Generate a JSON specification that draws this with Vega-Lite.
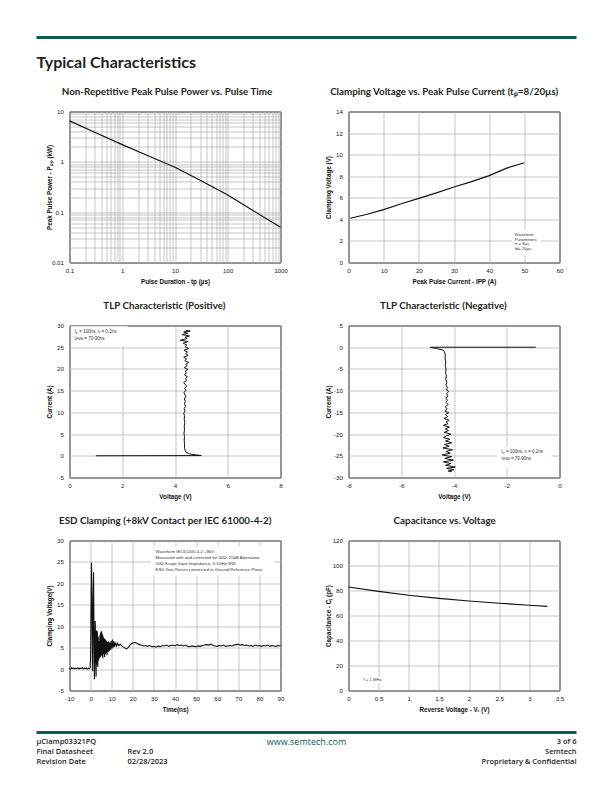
{
  "$schema": "https://vega.github.io/schema/vega-lite/v6.json",
  "background": "white",
  "padding": {"left": 34.5, "top": 35.5, "right": 10, "bottom": 10},
  "columns": 2,
  "bounds": "flush",
  "spacing": {"row": 63, "column": 68},
  "datasets": {
    "pulse": [
      {"tp": 0.1, "ppp": 6.5}, {"tp": 0.3, "ppp": 3.87}, {"tp": 1, "ppp": 2.2}, {"tp": 3, "ppp": 1.34},
      {"tp": 10, "ppp": 0.78}, {"tp": 30, "ppp": 0.43}, {"tp": 100, "ppp": 0.22}, {"tp": 300, "ppp": 0.108}, {"tp": 1000, "ppp": 0.05}
    ],
    "clamp": [
      {"ipp": 0.5, "vc": 4.1}, {"ipp": 5, "vc": 4.45}, {"ipp": 10, "vc": 4.9}, {"ipp": 15, "vc": 5.45},
      {"ipp": 20, "vc": 5.95}, {"ipp": 25, "vc": 6.45}, {"ipp": 30, "vc": 7.0}, {"ipp": 35, "vc": 7.5},
      {"ipp": 40, "vc": 8.05}, {"ipp": 45, "vc": 8.75}, {"ipp": 50, "vc": 9.25}
    ],
    "tlpPos": [
      {"i": 0, "v": 1.0, "a": 0}, {"i": 1, "v": 5.0, "a": 0.05}, {"i": 2, "v": 4.8, "a": 0.2}, {"i": 3, "v": 4.55, "a": 0.45},
      {"i": 4, "v": 4.42, "a": 0.8}, {"i": 5, "v": 4.38, "a": 1.3}, {"i": 6, "v": 4.36, "a": 2.0}, {"i": 7, "v": 4.36, "a": 2.8},
      {"i": 8, "v": 4.35, "a": 3.6}, {"i": 9, "v": 4.36, "a": 4.4}, {"i": 10, "v": 4.34, "a": 5.2}, {"i": 11, "v": 4.36, "a": 6.0},
      {"i": 12, "v": 4.35, "a": 6.8}, {"i": 13, "v": 4.37, "a": 7.6}, {"i": 14, "v": 4.35, "a": 8.4}, {"i": 15, "v": 4.36, "a": 9.2},
      {"i": 16, "v": 4.33, "a": 9.8}, {"i": 17, "v": 4.38, "a": 10.3}, {"i": 18, "v": 4.35, "a": 10.9}, {"i": 19, "v": 4.40, "a": 11.4},
      {"i": 20, "v": 4.36, "a": 12.0}, {"i": 21, "v": 4.39, "a": 12.6}, {"i": 22, "v": 4.35, "a": 13.1}, {"i": 23, "v": 4.41, "a": 13.6},
      {"i": 24, "v": 4.37, "a": 14.2}, {"i": 25, "v": 4.34, "a": 14.6}, {"i": 26, "v": 4.42, "a": 15.1}, {"i": 27, "v": 4.36, "a": 15.5},
      {"i": 28, "v": 4.45, "a": 16.0}, {"i": 29, "v": 4.38, "a": 16.4}, {"i": 30, "v": 4.33, "a": 16.9}, {"i": 31, "v": 4.44, "a": 17.3},
      {"i": 32, "v": 4.40, "a": 17.8}, {"i": 33, "v": 4.47, "a": 18.2}, {"i": 34, "v": 4.36, "a": 18.6}, {"i": 35, "v": 4.43, "a": 19.1},
      {"i": 36, "v": 4.39, "a": 19.5}, {"i": 37, "v": 4.49, "a": 19.9}, {"i": 38, "v": 4.35, "a": 20.3}, {"i": 39, "v": 4.46, "a": 20.7},
      {"i": 40, "v": 4.41, "a": 21.1}, {"i": 41, "v": 4.52, "a": 21.5}, {"i": 42, "v": 4.37, "a": 21.9}, {"i": 43, "v": 4.44, "a": 22.3},
      {"i": 44, "v": 4.33, "a": 22.7}, {"i": 45, "v": 4.50, "a": 23.1}, {"i": 46, "v": 4.40, "a": 23.5}, {"i": 47, "v": 4.47, "a": 23.9},
      {"i": 48, "v": 4.34, "a": 24.3}, {"i": 49, "v": 4.52, "a": 24.7}, {"i": 50, "v": 4.38, "a": 25.1}, {"i": 51, "v": 4.45, "a": 25.5},
      {"i": 52, "v": 4.31, "a": 25.9}, {"i": 53, "v": 4.50, "a": 26.3}, {"i": 54, "v": 4.20, "a": 26.6}, {"i": 55, "v": 4.46, "a": 27.0},
      {"i": 56, "v": 4.38, "a": 27.3}, {"i": 57, "v": 4.55, "a": 27.6}, {"i": 58, "v": 4.27, "a": 27.9}, {"i": 59, "v": 4.48, "a": 28.2},
      {"i": 60, "v": 4.33, "a": 28.5}, {"i": 61, "v": 4.58, "a": 28.7}, {"i": 62, "v": 4.40, "a": 28.9}
    ],
    "tlpNeg": [
      {"i": 0, "v": -0.9, "a": 0}, {"i": 1, "v": -4.9, "a": 0}, {"i": 2, "v": -4.85, "a": -0.1}, {"i": 3, "v": -4.65, "a": -0.3},
      {"i": 4, "v": -4.45, "a": -0.6}, {"i": 5, "v": -4.36, "a": -1.0}, {"i": 6, "v": -4.33, "a": -1.8}, {"i": 7, "v": -4.34, "a": -2.6},
      {"i": 8, "v": -4.31, "a": -3.4}, {"i": 9, "v": -4.33, "a": -4.2}, {"i": 10, "v": -4.30, "a": -5.0}, {"i": 11, "v": -4.32, "a": -5.8},
      {"i": 12, "v": -4.29, "a": -6.6}, {"i": 13, "v": -4.31, "a": -7.4}, {"i": 14, "v": -4.27, "a": -8.1}, {"i": 15, "v": -4.31, "a": -8.7},
      {"i": 16, "v": -4.24, "a": -9.3}, {"i": 17, "v": -4.29, "a": -9.8}, {"i": 18, "v": -4.20, "a": -10.2}, {"i": 19, "v": -4.28, "a": -10.7},
      {"i": 20, "v": -4.23, "a": -11.2}, {"i": 21, "v": -4.31, "a": -11.7}, {"i": 22, "v": -4.25, "a": -12.2}, {"i": 23, "v": -4.30, "a": -12.7},
      {"i": 24, "v": -4.22, "a": -13.2}, {"i": 25, "v": -4.33, "a": -13.7}, {"i": 26, "v": -4.26, "a": -14.2}, {"i": 27, "v": -4.35, "a": -14.7},
      {"i": 28, "v": -4.20, "a": -15.1}, {"i": 29, "v": -4.32, "a": -15.5}, {"i": 30, "v": -4.24, "a": -16.0}, {"i": 31, "v": -4.38, "a": -16.4},
      {"i": 32, "v": -4.19, "a": -16.8}, {"i": 33, "v": -4.30, "a": -17.2}, {"i": 34, "v": -4.23, "a": -17.6}, {"i": 35, "v": -4.40, "a": -18.0},
      {"i": 36, "v": -4.17, "a": -18.4}, {"i": 37, "v": -4.33, "a": -18.8}, {"i": 38, "v": -4.21, "a": -19.2}, {"i": 39, "v": -4.37, "a": -19.6},
      {"i": 40, "v": -4.12, "a": -20.0}, {"i": 41, "v": -4.28, "a": -20.4}, {"i": 42, "v": -4.40, "a": -20.8}, {"i": 43, "v": -4.16, "a": -21.2},
      {"i": 44, "v": -4.32, "a": -21.6}, {"i": 45, "v": -4.08, "a": -22.0}, {"i": 46, "v": -4.36, "a": -22.4}, {"i": 47, "v": -4.18, "a": -22.8},
      {"i": 48, "v": -4.42, "a": -23.2}, {"i": 49, "v": -4.05, "a": -23.6}, {"i": 50, "v": -4.30, "a": -24.0}, {"i": 51, "v": -4.14, "a": -24.4},
      {"i": 52, "v": -4.45, "a": -24.8}, {"i": 53, "v": -4.09, "a": -25.2}, {"i": 54, "v": -4.35, "a": -25.6}, {"i": 55, "v": -4.02, "a": -26.0},
      {"i": 56, "v": -4.40, "a": -26.4}, {"i": 57, "v": -4.12, "a": -26.8}, {"i": 58, "v": -4.32, "a": -27.2}, {"i": 59, "v": -3.95, "a": -27.6},
      {"i": 60, "v": -4.28, "a": -27.9}, {"i": 61, "v": -4.00, "a": -28.2}, {"i": 62, "v": -4.22, "a": -28.5}, {"i": 63, "v": -4.08, "a": -28.7}
    ],
    "esd": [
      {"t": -10, "v": 0.2}, {"t": -9.5, "v": 0.0}, {"t": -9, "v": 0.3}, {"t": -8.5, "v": 0.1}, {"t": -8, "v": 0.25}, {"t": -7.5, "v": 0.05},
      {"t": -7, "v": 0.2}, {"t": -6.5, "v": 0.1}, {"t": -6, "v": 0.3}, {"t": -5.5, "v": 0.0}, {"t": -5, "v": 0.2}, {"t": -4.5, "v": 0.15},
      {"t": -4, "v": 0.3}, {"t": -3.5, "v": 0.05}, {"t": -3, "v": 0.2}, {"t": -2.5, "v": 0.1}, {"t": -2, "v": 0.25}, {"t": -1.5, "v": 0.0},
      {"t": -1, "v": 0.2}, {"t": -0.5, "v": 0.1}, {"t": -0.2, "v": 0.3},
      {"t": 0, "v": 3}, {"t": 0.2, "v": 14}, {"t": 0.4, "v": 24.8}, {"t": 0.6, "v": 18}, {"t": 0.8, "v": 6}, {"t": 1.0, "v": -0.5},
      {"t": 1.2, "v": 16}, {"t": 1.4, "v": 22.6}, {"t": 1.6, "v": 9}, {"t": 1.8, "v": -2.4}, {"t": 2.0, "v": 3}, {"t": 2.2, "v": 11.2},
      {"t": 2.4, "v": 4}, {"t": 2.6, "v": -1.8}, {"t": 2.8, "v": 9}, {"t": 3.0, "v": 1}, {"t": 3.2, "v": 8.8}, {"t": 3.4, "v": 0.5},
      {"t": 3.6, "v": 7.5}, {"t": 3.8, "v": 2}, {"t": 4.0, "v": 6.5}, {"t": 4.2, "v": 2.5}, {"t": 4.4, "v": 8.0}, {"t": 4.6, "v": 2.8},
      {"t": 4.8, "v": 8.6}, {"t": 5.0, "v": 3.0}, {"t": 5.2, "v": 8.8}, {"t": 5.4, "v": 3.2}, {"t": 5.6, "v": 8.2}, {"t": 5.8, "v": 2.5},
      {"t": 6.0, "v": 7.6}, {"t": 6.2, "v": 3.5}, {"t": 6.4, "v": 7.2}, {"t": 6.6, "v": 2.8}, {"t": 6.8, "v": 7.0}, {"t": 7.0, "v": 3.4},
      {"t": 7.2, "v": 6.8}, {"t": 7.4, "v": 3.8}, {"t": 7.6, "v": 6.5}, {"t": 7.8, "v": 3.2}, {"t": 8.0, "v": 6.3}, {"t": 8.3, "v": 4.0},
      {"t": 8.6, "v": 6.4}, {"t": 8.9, "v": 4.2}, {"t": 9.2, "v": 6.2}, {"t": 9.5, "v": 4.5}, {"t": 9.8, "v": 6.6}, {"t": 10.1, "v": 4.8},
      {"t": 10.4, "v": 6.9}, {"t": 10.7, "v": 5.0}, {"t": 11.0, "v": 6.5}, {"t": 11.4, "v": 5.2}, {"t": 11.8, "v": 6.2}, {"t": 12.3, "v": 5.4},
      {"t": 12.8, "v": 6.0}, {"t": 13.3, "v": 5.5}, {"t": 14, "v": 5.8}, {"t": 15, "v": 5.3}, {"t": 16, "v": 5.0}, {"t": 17, "v": 4.7},
      {"t": 18, "v": 5.1}, {"t": 19, "v": 5.8}, {"t": 20, "v": 6.1}, {"t": 21, "v": 6.2}, {"t": 22, "v": 6.0}, {"t": 23, "v": 5.7},
      {"t": 24, "v": 5.6}, {"t": 25, "v": 5.4}, {"t": 26, "v": 5.5}, {"t": 27, "v": 5.3}, {"t": 28, "v": 5.5}, {"t": 29, "v": 5.2},
      {"t": 30, "v": 5.3}, {"t": 31, "v": 5.1}, {"t": 32, "v": 5.4}, {"t": 33, "v": 5.2}, {"t": 34, "v": 5.5}, {"t": 35, "v": 5.4},
      {"t": 36, "v": 5.6}, {"t": 37, "v": 5.3}, {"t": 38, "v": 5.5}, {"t": 39, "v": 5.6}, {"t": 40, "v": 5.4}, {"t": 41, "v": 5.7},
      {"t": 42, "v": 5.5}, {"t": 43, "v": 5.6}, {"t": 44, "v": 5.4}, {"t": 45, "v": 5.6}, {"t": 46, "v": 5.3}, {"t": 47, "v": 5.2},
      {"t": 48, "v": 5.4}, {"t": 49, "v": 5.3}, {"t": 50, "v": 5.2}, {"t": 51, "v": 5.4}, {"t": 52, "v": 5.3}, {"t": 53, "v": 5.5},
      {"t": 54, "v": 5.6}, {"t": 55, "v": 5.7}, {"t": 56, "v": 5.6}, {"t": 57, "v": 5.8}, {"t": 58, "v": 5.5}, {"t": 59, "v": 5.4},
      {"t": 60, "v": 5.3}, {"t": 61, "v": 5.5}, {"t": 62, "v": 5.4}, {"t": 63, "v": 5.6}, {"t": 64, "v": 5.3}, {"t": 65, "v": 5.4},
      {"t": 66, "v": 5.5}, {"t": 67, "v": 5.4}, {"t": 68, "v": 5.6}, {"t": 69, "v": 5.7}, {"t": 70, "v": 5.8}, {"t": 71, "v": 5.6},
      {"t": 72, "v": 5.7}, {"t": 73, "v": 5.5}, {"t": 74, "v": 5.6}, {"t": 75, "v": 5.4}, {"t": 76, "v": 5.5}, {"t": 77, "v": 5.3},
      {"t": 78, "v": 5.6}, {"t": 79, "v": 5.4}, {"t": 80, "v": 5.5}, {"t": 81, "v": 5.3}, {"t": 82, "v": 5.5}, {"t": 83, "v": 5.4},
      {"t": 84, "v": 5.6}, {"t": 85, "v": 5.3}, {"t": 86, "v": 5.5}, {"t": 87, "v": 5.4}, {"t": 88, "v": 5.3}, {"t": 89, "v": 5.5}, {"t": 90, "v": 5.4}
    ],
    "cap": [
      {"vr": 0, "c": 82.8}, {"vr": 0.5, "c": 79.3}, {"vr": 1, "c": 76.2}, {"vr": 1.5, "c": 73.7}, {"vr": 2, "c": 71.6},
      {"vr": 2.5, "c": 69.8}, {"vr": 3, "c": 68.2}, {"vr": 3.3, "c": 67.3}
    ]
  },
  "concat": [
    {
      "width": 211, "height": 11, "view": {"stroke": null},
      "data": {"values": [{}]},
      "layer": [
        {"mark": {"type": "rule", "color": "#0b5d56", "strokeWidth": 3},
         "encoding": {
           "x": {"datum": 36, "type": "quantitative", "scale": {"domain": [69, 280]}, "axis": null},
           "x2": {"datum": 330},
           "y": {"datum": 37, "type": "quantitative", "scale": {"domain": [37, 48], "reverse": true}, "axis": null}}},
        {"mark": {"type": "text", "align": "left", "baseline": "middle", "font": "Lato", "fontWeight": "bold", "fontSize": 16, "color": "#231f20"},
         "encoding": {
           "x": {"datum": 36, "type": "quantitative", "scale": {"domain": [69, 280]}, "axis": null},
           "y": {"datum": 62, "type": "quantitative", "scale": {"domain": [37, 48], "reverse": true}, "axis": null},
           "text": {"value": "Typical Characteristics"}}}
      ]
    },
    {
      "width": 211, "height": 11, "view": {"stroke": null},
      "data": {"values": [{}]},
      "mark": {"type": "rule", "color": "#0b5d56", "strokeWidth": 3},
      "encoding": {
        "x": {"datum": 320, "type": "quantitative", "scale": {"domain": [348, 559]}, "axis": null},
        "x2": {"datum": 576},
        "y": {"datum": 37, "type": "quantitative", "scale": {"domain": [37, 48], "reverse": true}, "axis": null}}
    },
    {
      "width": 211, "height": 151,
      "title": {"text": "Non-Repetitive Peak Pulse Power vs. Pulse Time"},
      "data": {"name": "pulse"},
      "mark": {"type": "line", "color": "#111", "strokeWidth": 1.2},
      "encoding": {
        "x": {"field": "tp", "type": "quantitative",
              "scale": {"type": "log", "domain": [0.1, 1000]},
              "axis": {"title": "Pulse Duration - tp (µs)",
                       "values": [0.1, 0.2, 0.3, 0.4, 0.5, 0.6, 0.7, 0.8, 0.9, 1, 2, 3, 4, 5, 6, 7, 8, 9, 10, 20, 30, 40, 50, 60, 70, 80, 90, 100, 200, 300, 400, 500, 600, 700, 800, 900, 1000],
                       "labelExpr": "indexof([0.1,1,10,100,1000], datum.value) >= 0 ? format(datum.value, '~g') : ''"}},
        "y": {"field": "ppp", "type": "quantitative",
              "scale": {"type": "log", "domain": [0.01, 10]},
              "axis": {"title": "Peak Pulse Power - Pₚₚ (kW)",
                       "values": [0.01, 0.02, 0.03, 0.04, 0.05, 0.06, 0.07, 0.08, 0.09, 0.1, 0.2, 0.3, 0.4, 0.5, 0.6, 0.7, 0.8, 0.9, 1, 2, 3, 4, 5, 6, 7, 8, 9, 10],
                       "labelExpr": "indexof([0.01,0.1,1,10], datum.value) >= 0 ? format(datum.value, '~g') : ''"}}
      }
    },
    {
      "width": 211, "height": 151,
      "title": {"text": "Clamping Voltage vs. Peak Pulse Current (tₚ=8/20µs)"},
      "layer": [
        {"data": {"name": "clamp"},
         "mark": {"type": "line", "color": "#111", "strokeWidth": 1.2},
         "encoding": {
           "x": {"field": "ipp", "type": "quantitative", "scale": {"domain": [0, 60]},
                 "axis": {"title": "Peak Pulse Current - IPP (A)", "values": [0, 10, 20, 30, 40, 50, 60]}},
           "y": {"field": "vc", "type": "quantitative", "scale": {"domain": [0, 14]},
                 "axis": {"title": "Clamping Voltage (V)", "values": [0, 2, 4, 6, 8, 10, 12, 14]}}}},
        {"data": {"values": [{}]},
         "mark": {"type": "rect", "fill": "white"},
         "encoding": {
           "x": {"datum": 46.6, "type": "quantitative", "scale": {"domain": [0, 60]},
                 "axis": {"title": "Peak Pulse Current - IPP (A)", "values": [0, 10, 20, 30, 40, 50, 60]}},
           "x2": {"datum": 54.6},
           "y": {"datum": 0.6, "type": "quantitative", "scale": {"domain": [0, 14]},
                 "axis": {"title": "Clamping Voltage (V)", "values": [0, 2, 4, 6, 8, 10, 12, 14]}},
           "y2": {"datum": 3.0}}},
        {"data": {"values": [{}]},
         "mark": {"type": "text", "align": "left", "baseline": "top", "font": "Liberation Sans", "fontSize": 4.2, "lineBreak": "\n", "lineHeight": 4.8, "color": "#333"},
         "encoding": {
           "x": {"datum": 47.3, "type": "quantitative", "scale": {"domain": [0, 60]},
                 "axis": {"title": "Peak Pulse Current - IPP (A)", "values": [0, 10, 20, 30, 40, 50, 60]}},
           "y": {"datum": 2.75, "type": "quantitative", "scale": {"domain": [0, 14]},
                 "axis": {"title": "Clamping Voltage (V)", "values": [0, 2, 4, 6, 8, 10, 12, 14]}},
           "text": {"value": "Waveform\nParameters:\ntr = 8µs\ntd= 20µs"}}}
      ]
    },
    {
      "width": 211, "height": 152,
      "title": {"text": "TLP Characteristic (Positive)"},
      "layer": [
        {"data": {"name": "tlpPos"},
         "mark": {"type": "line", "color": "#111", "strokeWidth": 1.0},
         "encoding": {
           "x": {"field": "v", "type": "quantitative", "scale": {"domain": [0, 8]},
                 "axis": {"title": "Voltage (V)", "values": [0, 2, 4, 6, 8]}},
           "y": {"field": "a", "type": "quantitative", "scale": {"domain": [-5, 30]},
                 "axis": {"title": "Current (A)", "values": [-5, 0, 5, 10, 15, 20, 25, 30]}},
           "order": {"field": "i", "type": "quantitative"}}},
        {"data": {"values": [{}]},
         "mark": {"type": "rect", "fill": "white"},
         "encoding": {
           "x": {"datum": 0.06, "type": "quantitative", "scale": {"domain": [0, 8]},
                 "axis": {"title": "Voltage (V)", "values": [0, 2, 4, 6, 8]}},
           "x2": {"datum": 2.2},
           "y": {"datum": 25.3, "type": "quantitative", "scale": {"domain": [-5, 30]},
                 "axis": {"title": "Current (A)", "values": [-5, 0, 5, 10, 15, 20, 25, 30]}},
           "y2": {"datum": 29.85}}},
        {"data": {"values": [{}]},
         "mark": {"type": "text", "align": "left", "baseline": "top", "font": "Liberation Sans", "fontSize": 4.5, "lineBreak": "\n", "lineHeight": 7, "color": "#333"},
         "encoding": {
           "x": {"datum": 0.2, "type": "quantitative", "scale": {"domain": [0, 8]},
                 "axis": {"title": "Voltage (V)", "values": [0, 2, 4, 6, 8]}},
           "y": {"datum": 29.2, "type": "quantitative", "scale": {"domain": [-5, 30]},
                 "axis": {"title": "Current (A)", "values": [-5, 0, 5, 10, 15, 20, 25, 30]}},
           "text": {"value": "tₚ = 100ns, tᵣ = 0.2ns\ntᴀᴠɢ = 70-90ns"}}}
      ]
    },
    {
      "width": 211, "height": 152,
      "title": {"text": "TLP Characteristic (Negative)"},
      "layer": [
        {"data": {"name": "tlpNeg"},
         "mark": {"type": "line", "color": "#111", "strokeWidth": 1.0},
         "encoding": {
           "x": {"field": "v", "type": "quantitative", "scale": {"domain": [-8, 0]},
                 "axis": {"title": "Voltage (V)", "values": [-8, -6, -4, -2, 0]}},
           "y": {"field": "a", "type": "quantitative", "scale": {"domain": [-30, 5]},
                 "axis": {"title": "Current (A)", "values": [-30, -25, -20, -15, -10, -5, 0, 5]}},
           "order": {"field": "i", "type": "quantitative"}}},
        {"data": {"values": [{}]},
         "mark": {"type": "rect", "fill": "white"},
         "encoding": {
           "x": {"datum": -2.35, "type": "quantitative", "scale": {"domain": [-8, 0]},
                 "axis": {"title": "Voltage (V)", "values": [-8, -6, -4, -2, 0]}},
           "x2": {"datum": -0.3},
           "y": {"datum": -27.9, "type": "quantitative", "scale": {"domain": [-30, 5]},
                 "axis": {"title": "Current (A)", "values": [-30, -25, -20, -15, -10, -5, 0, 5]}},
           "y2": {"datum": -22.9}}},
        {"data": {"values": [{}]},
         "mark": {"type": "text", "align": "left", "baseline": "top", "font": "Liberation Sans", "fontSize": 4.5, "lineBreak": "\n", "lineHeight": 7, "color": "#333"},
         "encoding": {
           "x": {"datum": -2.2, "type": "quantitative", "scale": {"domain": [-8, 0]},
                 "axis": {"title": "Voltage (V)", "values": [-8, -6, -4, -2, 0]}},
           "y": {"datum": -23.4, "type": "quantitative", "scale": {"domain": [-30, 5]},
                 "axis": {"title": "Current (A)", "values": [-30, -25, -20, -15, -10, -5, 0, 5]}},
           "text": {"value": "tₚ = 100ns, tᵣ = 0.2ns\ntᴀᴠɢ = 70-90ns"}}}
      ]
    },
    {
      "width": 211, "height": 150,
      "title": {"text": "ESD Clamping (+8kV Contact per IEC 61000-4-2)"},
      "layer": [
        {"data": {"name": "esd"},
         "mark": {"type": "line", "color": "#111", "strokeWidth": 1.1},
         "encoding": {
           "x": {"field": "t", "type": "quantitative", "scale": {"domain": [-10, 90]},
                 "axis": {"title": "Time(ns)", "values": [-10, 0, 10, 20, 30, 40, 50, 60, 70, 80, 90]}},
           "y": {"field": "v", "type": "quantitative", "scale": {"domain": [-5, 30]},
                 "axis": {"title": "Clamping Voltage(V)", "values": [-5, 0, 5, 10, 15, 20, 25, 30]}}}},
        {"data": {"values": [{}]},
         "mark": {"type": "rect", "fill": "white"},
         "encoding": {
           "x": {"datum": 28.5, "type": "quantitative", "scale": {"domain": [-10, 90]},
                 "axis": {"title": "Time(ns)", "values": [-10, 0, 10, 20, 30, 40, 50, 60, 70, 80, 90]}},
           "x2": {"datum": 87},
           "y": {"datum": 21.9, "type": "quantitative", "scale": {"domain": [-5, 30]},
                 "axis": {"title": "Clamping Voltage(V)", "values": [-5, 0, 5, 10, 15, 20, 25, 30]}},
           "y2": {"datum": 28.6}}},
        {"data": {"values": [{}]},
         "mark": {"type": "text", "align": "left", "baseline": "top", "font": "Liberation Sans", "fontSize": 4.3, "lineBreak": "\n", "lineHeight": 6, "color": "#333"},
         "encoding": {
           "x": {"datum": 30.8, "type": "quantitative", "scale": {"domain": [-10, 90]},
                 "axis": {"title": "Time(ns)", "values": [-10, 0, 10, 20, 30, 40, 50, 60, 70, 80, 90]}},
           "y": {"datum": 27.8, "type": "quantitative", "scale": {"domain": [-5, 30]},
                 "axis": {"title": "Clamping Voltage(V)", "values": [-5, 0, 5, 10, 15, 20, 25, 30]}},
           "text": {"value": "Waveform IEC61000-4-2 +8kV.\nMeasured with and corrected for 50Ω, 20dB Attenuator.\n50Ω Scope Input Impedance, 3.5GHz BW.\nESD Gun Return connected to Ground Reference Plane."}}}
      ]
    },
    {
      "width": 211, "height": 150,
      "title": {"text": "Capacitance vs. Voltage"},
      "layer": [
        {"data": {"name": "cap"},
         "mark": {"type": "line", "color": "#111", "strokeWidth": 1.2},
         "encoding": {
           "x": {"field": "vr", "type": "quantitative", "scale": {"domain": [0, 3.5]},
                 "axis": {"title": "Reverse Voltage - Vᵣ (V)", "values": [0, 0.5, 1, 1.5, 2, 2.5, 3, 3.5], "format": "~g"}},
           "y": {"field": "c", "type": "quantitative", "scale": {"domain": [0, 120]},
                 "axis": {"title": "Capacitance - Cⱼ (pF)", "values": [0, 20, 40, 60, 80, 100, 120]}}}},
        {"data": {"values": [{}]},
         "mark": {"type": "rect", "fill": "white"},
         "encoding": {
           "x": {"datum": 0.18, "type": "quantitative", "scale": {"domain": [0, 3.5]},
                 "axis": {"title": "Reverse Voltage - Vᵣ (V)", "values": [0, 0.5, 1, 1.5, 2, 2.5, 3, 3.5], "format": "~g"}},
           "x2": {"datum": 0.7},
           "y": {"datum": 6.2, "type": "quantitative", "scale": {"domain": [0, 120]},
                 "axis": {"title": "Capacitance - Cⱼ (pF)", "values": [0, 20, 40, 60, 80, 100, 120]}},
           "y2": {"datum": 11.2}}},
        {"data": {"values": [{}]},
         "mark": {"type": "text", "align": "left", "baseline": "middle", "font": "Liberation Sans", "fontSize": 4.2, "color": "#333"},
         "encoding": {
           "x": {"datum": 0.25, "type": "quantitative", "scale": {"domain": [0, 3.5]},
                 "axis": {"title": "Reverse Voltage - Vᵣ (V)", "values": [0, 0.5, 1, 1.5, 2, 2.5, 3, 3.5], "format": "~g"}},
           "y": {"datum": 8.7, "type": "quantitative", "scale": {"domain": [0, 120]},
                 "axis": {"title": "Capacitance - Cⱼ (pF)", "values": [0, 20, 40, 60, 80, 100, 120]}},
           "text": {"value": "f = 1 MHz"}}}
      ]
    },
    {
      "width": 211, "height": 12, "view": {"stroke": null},
      "data": {"values": [{}]},
      "layer": [
        {"mark": {"type": "rule", "color": "#0b5d56", "strokeWidth": 3},
         "encoding": {
           "x": {"datum": 36, "type": "quantitative", "scale": {"domain": [69, 280]}, "axis": null},
           "x2": {"datum": 330},
           "y": {"datum": 732, "type": "quantitative", "scale": {"domain": [753, 765], "reverse": true}, "axis": null}}},
        {"mark": {"type": "text", "align": "left", "baseline": "middle", "font": "Open Sans", "fontWeight": 600, "fontSize": 7.5, "color": "#231f20"},
         "encoding": {
           "x": {"datum": 36, "type": "quantitative", "scale": {"domain": [69, 280]}, "axis": null},
           "y": {"datum": 741, "type": "quantitative", "scale": {"domain": [753, 765], "reverse": true}, "axis": null},
           "text": {"value": "µClamp03321PQ"}}},
        {"mark": {"type": "text", "align": "left", "baseline": "middle", "font": "Open Sans", "fontWeight": 600, "fontSize": 7.5, "color": "#231f20"},
         "encoding": {
           "x": {"datum": 36, "type": "quantitative", "scale": {"domain": [69, 280]}, "axis": null},
           "y": {"datum": 751, "type": "quantitative", "scale": {"domain": [753, 765], "reverse": true}, "axis": null},
           "text": {"value": "Final Datasheet"}}},
        {"mark": {"type": "text", "align": "left", "baseline": "middle", "font": "Open Sans", "fontWeight": 600, "fontSize": 7.5, "color": "#231f20"},
         "encoding": {
           "x": {"datum": 36, "type": "quantitative", "scale": {"domain": [69, 280]}, "axis": null},
           "y": {"datum": 761, "type": "quantitative", "scale": {"domain": [753, 765], "reverse": true}, "axis": null},
           "text": {"value": "Revision Date"}}},
        {"mark": {"type": "text", "align": "left", "baseline": "middle", "font": "Open Sans", "fontWeight": 600, "fontSize": 7.5, "color": "#231f20"},
         "encoding": {
           "x": {"datum": 127, "type": "quantitative", "scale": {"domain": [69, 280]}, "axis": null},
           "y": {"datum": 751, "type": "quantitative", "scale": {"domain": [753, 765], "reverse": true}, "axis": null},
           "text": {"value": "Rev 2.0"}}},
        {"mark": {"type": "text", "align": "left", "baseline": "middle", "font": "Open Sans", "fontWeight": 600, "fontSize": 7.5, "color": "#231f20"},
         "encoding": {
           "x": {"datum": 127, "type": "quantitative", "scale": {"domain": [69, 280]}, "axis": null},
           "y": {"datum": 761, "type": "quantitative", "scale": {"domain": [753, 765], "reverse": true}, "axis": null},
           "text": {"value": "02/28/2023"}}},
        {"mark": {"type": "text", "align": "center", "baseline": "middle", "font": "Open Sans", "fontSize": 9, "color": "#0b5d56"},
         "encoding": {
           "x": {"datum": 306, "type": "quantitative", "scale": {"domain": [69, 280]}, "axis": null},
           "y": {"datum": 741, "type": "quantitative", "scale": {"domain": [753, 765], "reverse": true}, "axis": null},
           "text": {"value": "www.semtech.com"}}}
      ]
    },
    {
      "width": 211, "height": 12, "view": {"stroke": null},
      "data": {"values": [{}]},
      "layer": [
        {"mark": {"type": "rule", "color": "#0b5d56", "strokeWidth": 3},
         "encoding": {
           "x": {"datum": 320, "type": "quantitative", "scale": {"domain": [348, 559]}, "axis": null},
           "x2": {"datum": 576},
           "y": {"datum": 732, "type": "quantitative", "scale": {"domain": [753, 765], "reverse": true}, "axis": null}}},
        {"mark": {"type": "text", "align": "right", "baseline": "middle", "font": "Open Sans", "fontWeight": 600, "fontSize": 7.5, "color": "#231f20"},
         "encoding": {
           "x": {"datum": 576, "type": "quantitative", "scale": {"domain": [348, 559]}, "axis": null},
           "y": {"datum": 741, "type": "quantitative", "scale": {"domain": [753, 765], "reverse": true}, "axis": null},
           "text": {"value": "3 of 6"}}},
        {"mark": {"type": "text", "align": "right", "baseline": "middle", "font": "Open Sans", "fontWeight": 600, "fontSize": 7.5, "color": "#231f20"},
         "encoding": {
           "x": {"datum": 576, "type": "quantitative", "scale": {"domain": [348, 559]}, "axis": null},
           "y": {"datum": 751, "type": "quantitative", "scale": {"domain": [753, 765], "reverse": true}, "axis": null},
           "text": {"value": "Semtech"}}},
        {"mark": {"type": "text", "align": "right", "baseline": "middle", "font": "Open Sans", "fontWeight": 600, "fontSize": 7.5, "color": "#231f20"},
         "encoding": {
           "x": {"datum": 576, "type": "quantitative", "scale": {"domain": [348, 559]}, "axis": null},
           "y": {"datum": 761, "type": "quantitative", "scale": {"domain": [753, 765], "reverse": true}, "axis": null},
           "text": {"value": "Proprietary & Confidential"}}}
      ]
    }
  ],
  "config": {
    "locale": {"number": {"decimal": ".", "thousands": ",", "grouping": [3], "currency": ["$", ""], "minus": "-"}},
    "view": {"stroke": "#000", "strokeWidth": 1},
    "axis": {
      "domain": false, "ticks": false, "grid": true, "gridColor": "#b8b8b8", "gridWidth": 0.8,
      "labelFont": "Liberation Sans", "labelFontSize": 6.2, "labelColor": "#222", "labelFlush": false, "labelOverlap": false,
      "titleFont": "Liberation Sans", "titleFontSize": 6.3, "titleFontWeight": "bold", "titleColor": "#111"
    },
    "axisX": {"labelPadding": 5, "minExtent": 12, "maxExtent": 12, "titlePadding": 4},
    "axisY": {"labelPadding": 6, "minExtent": 14, "maxExtent": 14, "titlePadding": 3},
    "title": {"font": "Lato", "fontSize": 9.8, "fontWeight": "bold", "color": "#231f20", "anchor": "middle", "frame": "bounds", "offset": 12, "baseline": "bottom"}
  }
}
